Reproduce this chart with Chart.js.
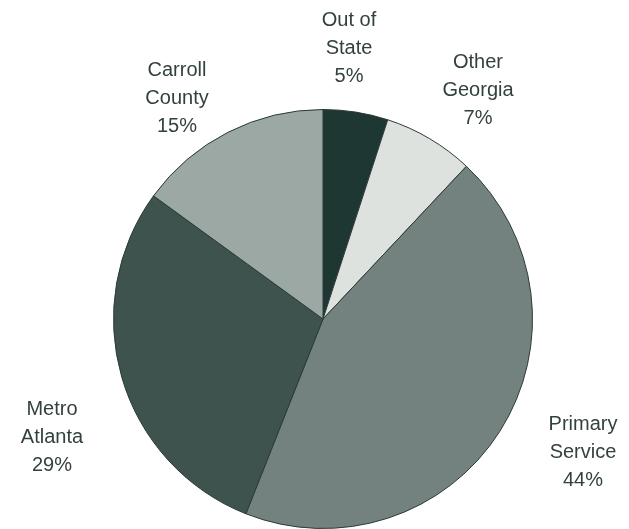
<!DOCTYPE html>
<html>
<head>
<meta charset="utf-8">
<script src="https://cdn.jsdelivr.net/npm/chart.js@4.4.1/dist/chart.umd.min.js"></script>
<style>
  html, body { margin: 0; padding: 0; background: #ffffff; }
  #wrap { width: 629px; height: 529px; position: relative; }
</style>
</head>
<body>
<div id="wrap"><canvas id="pieChart"></canvas></div>
<script>
// Data
const regions = ['Out of\nState', 'Other\nGeorgia', 'Primary\nService', 'Metro\nAtlanta', 'Carroll\nCounty'];
const shares = [5, 7, 44, 29, 15];
const sliceColors = ['#1e3733', '#dde2df', '#73827e', '#3e534e', '#9ba8a4'];

// Label anchors (centre of the text block), relative to the pie centre
const labelOffsets = [[26, -271], [155, -229], [260, 133], [-271, 118], [-146, -221]];

// Draws the multi-line labels with the percentage underneath
const sliceLabels = {
    id: 'sliceLabels',
    afterDatasetsDraw(chart) {
        const ctx = chart.ctx;
        const arcs = chart.getDatasetMeta(0).data;
        const data = chart.data.datasets[0].data;
        const lineH = 28;
        ctx.save();
        ctx.font = '20px "Liberation Sans", Arial, sans-serif';
        ctx.fillStyle = '#33413d';
        ctx.textAlign = 'center';
        ctx.textBaseline = 'middle';
        chart.data.labels.forEach((label, i) => {
            const arc = arcs[i];
            const lines = label.split('\n').concat([data[i] + '%']);
            const cx = arc.x + labelOffsets[i][0];
            const cy = arc.y + labelOffsets[i][1];
            const top = cy - (lines.length - 1) * lineH / 2;
            lines.forEach((t, j) => ctx.fillText(t, cx, top + j * lineH));
        });
        ctx.restore();
    }
};

const ctx = document.getElementById('pieChart').getContext('2d');
new Chart(ctx, {
    type: 'pie',
    data: {
        labels: regions,
        datasets: [
            {
                data: shares,
                backgroundColor: sliceColors,
                borderColor: '#2b3a36',
                borderWidth: 1,
            },
        ],
    },
    options: {
        responsive: true,
        maintainAspectRatio: false,
        animation: false,
        layout: {
            padding: { left: 113, right: 96, top: 109, bottom: 0 },
        },
        plugins: {
            legend: { display: false },
            tooltip: { enabled: false },
        },
    },
    plugins: [sliceLabels],
});
</script>
</body>
</html>
